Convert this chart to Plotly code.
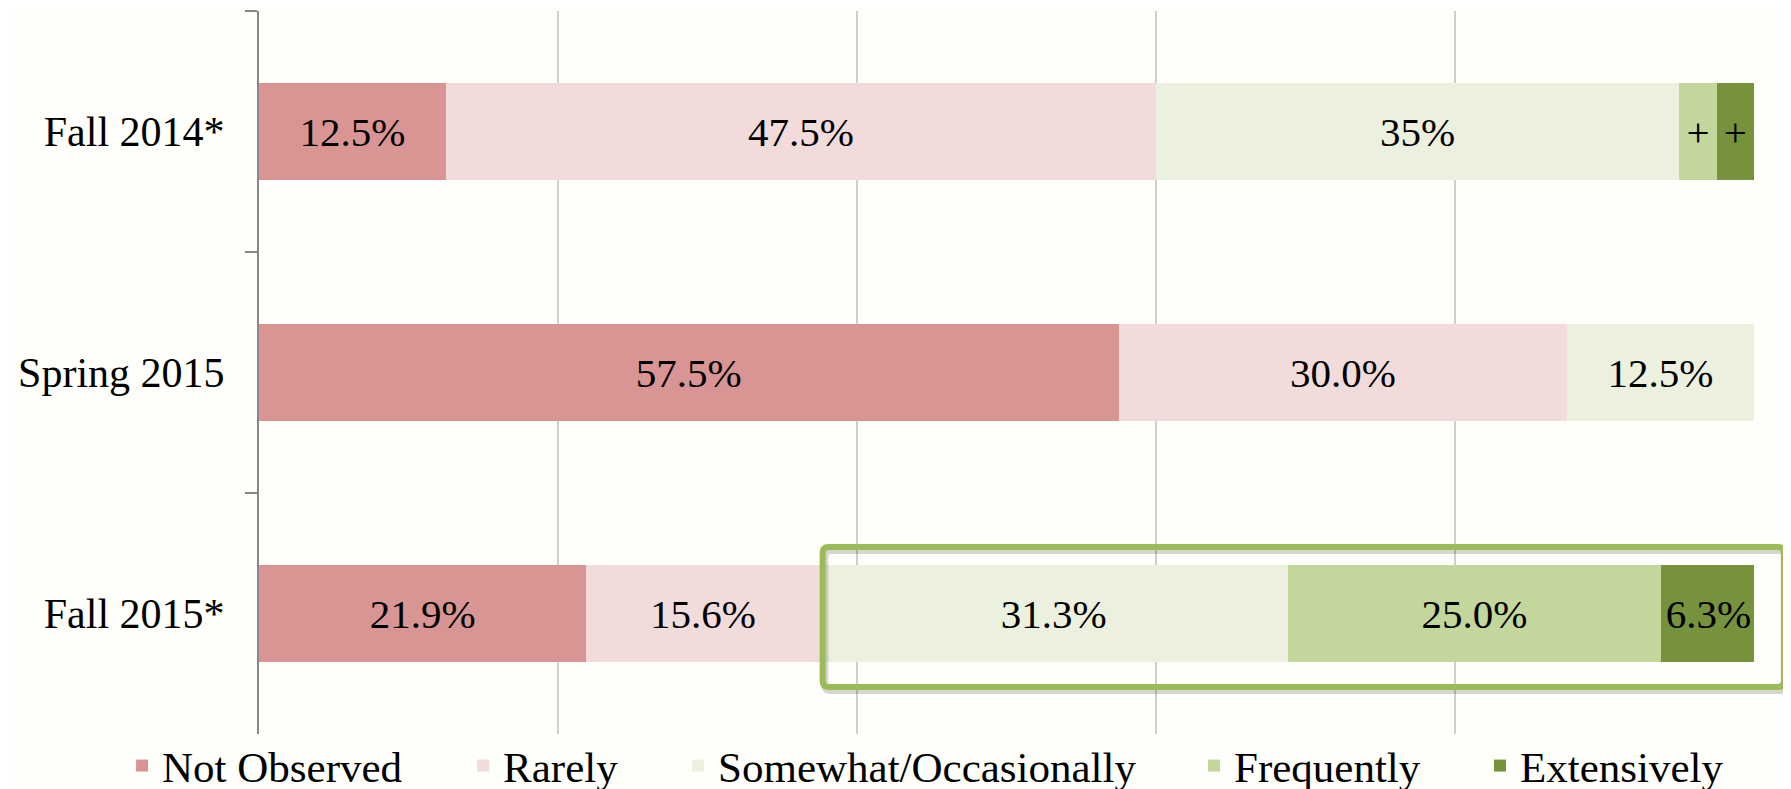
import plotly.graph_objects as go

categories = ["Fall 2014*", "Spring 2015", "Fall 2015*"]
series_names = ["Not Observed", "Rarely", "Somewhat/Occasionally", "Frequently", "Extensively"]

not_observed = [12.5, 57.5, 21.9]
rarely = [47.5, 30.0, 15.6]
somewhat = [35.0, 12.5, 31.3]
frequently = [2.5, 0.0, 25.0]
extensively = [2.5, 0.0, 6.3]

not_observed_labels = ["12.5%", "57.5%", "21.9%"]
rarely_labels = ["47.5%", "30.0%", "15.6%"]
somewhat_labels = ["35%", "12.5%", "31.3%"]
frequently_labels = ["+", "", "25.0%"]
extensively_labels = ["+", "", "6.3%"]

colors = ["#D99594", "#F2DBDB", "#EBF1DE", "#C3D69B", "#76923C"]

values = [not_observed, rarely, somewhat, frequently, extensively]
labels = [not_observed_labels, rarely_labels, somewhat_labels, frequently_labels, extensively_labels]

FONT = "Liberation Serif"
BG = "#FEFEFA"

legend_ids = ["legend", "legend2", "legend3", "legend4", "legend5"]
legend_x = [-0.0916, 0.1365, 0.2803, 0.6254, 0.8167]

fig = go.Figure()
for name, vals, labs, col, lid in zip(series_names, values, labels, colors, legend_ids):
    fig.add_trace(go.Bar(
        y=categories, x=vals, name=name, orientation="h",
        marker=dict(color=col, line=dict(width=0)),
        text=labs, textposition="inside", insidetextanchor="middle",
        textangle=0, constraintext="none",
        textfont=dict(family=FONT, size=41, color="black"),
        hoverinfo="skip", legend=lid,
    ))

# Highlight box around the Fall 2015 positive categories (Somewhat .. Extensively)
start_val = not_observed[2] + rarely[2]
x0 = start_val / 100.0 + 0.002
x1 = 1.020
y0, y1 = 0.065, 0.2587
rx, ry = 0.004, 0.0085

def rounded(xa, ya, xb, yb):
    return (f"M{xa+rx},{ya} L{xb-rx},{ya} Q{xb},{ya} {xb},{ya+ry} "
            f"L{xb},{yb-ry} Q{xb},{yb} {xb-rx},{yb} L{xa+rx},{yb} "
            f"Q{xa},{yb} {xa},{yb-ry} L{xa},{ya+ry} Q{xa},{ya} {xa+rx},{ya} Z")

shapes = [
    dict(type="path", xref="paper", yref="paper",
         path=rounded(x0 + 0.0015, y0 - 0.005, x1 + 0.0015, y1 - 0.005),
         line=dict(color="rgba(0,0,0,0.16)", width=7), layer="above"),
    dict(type="path", xref="paper", yref="paper",
         path=rounded(x0, y0, x1, y1),
         line=dict(color="#9BBB59", width=6), layer="above"),
]

legend_style = dict(orientation="h", xanchor="left", y=0.004, yanchor="top",
                    font=dict(family=FONT, size=43, color="black"),
                    bgcolor="rgba(0,0,0,0)", itemwidth=30)

layout_legends = {}
for lid, lx in zip(legend_ids, legend_x):
    layout_legends[lid] = dict(legend_style, x=lx)

fig.update_layout(
    barmode="stack",
    bargap=0.6,
    width=1791, height=789,
    margin=dict(l=251, r=45, t=3, b=63, autoexpand=False),
    paper_bgcolor=BG, plot_bgcolor=BG,
    font=dict(family=FONT, size=42, color="black"),
    shapes=shapes,
    showlegend=True,
    xaxis=dict(range=[0, 100], showticklabels=False, showgrid=True,
               gridcolor="#CFCFCF", gridwidth=1.5, tickvals=[20, 40, 60, 80, 100],
               zeroline=False, showline=False, fixedrange=True),
    yaxis=dict(categoryorder="array", categoryarray=categories, autorange="reversed",
               showline=True, linecolor="#878787", linewidth=2,
               ticks="outside", tickson="boundaries", ticklen=12, tickwidth=2,
               tickcolor="#878787", showgrid=False, ticklabelstandoff=24,
               tickfont=dict(family=FONT, size=42, color="black")),
    **layout_legends,
)

fig.write_html("out.html")
